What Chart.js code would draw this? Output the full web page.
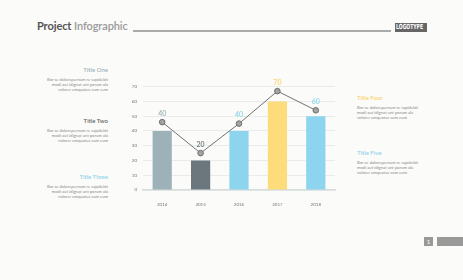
<!DOCTYPE html>
<html>
<head>
<meta charset="utf-8">
<script src="https://cdn.jsdelivr.net/npm/chart.js@4"></script>
<style>
  body { margin:0; width:463px; height:280px; background:#fbfbf9; position:relative; overflow:hidden; font-family:Lato, "Open Sans", sans-serif; }
  .abs { position:absolute; white-space:nowrap; }
  .ttl { font-size:6px; font-weight:600; }
  .body { font-size:4.2px; line-height:5px; color:#8a8a8a; }
  .left { text-align:right; right:355px; }
  .right { left:357px; }
  #wrap { position:absolute; left:120px; top:70px; width:220px; height:140px; }
</style>
</head>
<body>
<div class="abs" style="left:37px;top:19px;font-size:11px;font-weight:700;color:#555;letter-spacing:-0.1px">Project <span style="color:#9a9a9a;font-weight:600">Infographic</span></div>
<div class="abs" style="left:133px;top:30px;width:258px;height:1.5px;background:#aaa"></div>
<div class="abs" style="left:395px;top:23px;width:32px;height:9px;background:#666;overflow:hidden">
  <div style="color:#fff;font-size:7px;line-height:9px;font-family:'Liberation Sans Narrow','DejaVu Sans Condensed',sans-serif;font-weight:700;transform:scaleX(0.72);transform-origin:0 0;padding-left:1.5px">LOGOTYPE</div>
</div>

<div class="abs ttl left" style="top:66px;color:#9fb3ba">Title One</div>
<div class="abs body left" style="top:77px">Bor se dolorepernum re sapidebit<br>modi aut idignat unt porum ala<br>volorer umquatus sum eum</div>
<div class="abs ttl left" style="top:117px;color:#666">Title Two</div>
<div class="abs body left" style="top:128px">Bor se dolorepernum re sapidebit<br>modi aut idignat unt porum ala<br>volorer umquatus sum eum</div>
<div class="abs ttl left" style="top:173px;color:#8fd3ec">Title Three</div>
<div class="abs body left" style="top:184px">Bor se dolorepernum re sapidebit<br>modi aut idignat unt porum ala<br>volorer umquatus sum eum</div>

<div class="abs ttl right" style="top:94px;color:#f8d26b">Title Four</div>
<div class="abs body right" style="top:105px">Bor se dolorepernum re sapidebit<br>modi aut idignat unt porum ala<br>volorer umquatus sum eum</div>
<div class="abs ttl right" style="top:149px;color:#8fd3ec">Title Five</div>
<div class="abs body right" style="top:160px">Bor se dolorepernum re sapidebit<br>modi aut idignat unt porum ala<br>volorer umquatus sum eum</div>

<div class="abs" style="left:424px;top:237px;width:9px;height:9px;background:#999;color:#fff;font-size:6px;line-height:9px;text-align:center">1</div>
<div class="abs" style="left:437px;top:237px;width:26px;height:9px;background:#999"></div>

<div id="wrap"><canvas id="myChart"></canvas></div>

<script>
var years = ['2014', '2015', '2016', '2017', '2018'];
var barValues = [40, 20, 40, 60, 50];
var lineValues = [46, 25, 45, 67, 54];
var pointLabels = ['40', '20', '40', '70', '60'];
var barColors = ['#9db1b8', '#6b767d', '#8dd4ee', '#fddc7b', '#8dd4ee'];
var labelColors = ['#9fb3ba', '#6b767d', '#8dd4ee', '#f9d36c', '#8dd4ee'];
var yTicks = [0, 10, 20, 30, 40, 50, 60, 70];

// draws the small numbers above the line points
var labelPlugin = {
  id: 'pointLabels',
  afterDatasetsDraw: function(chart) {
    var ctx = chart.ctx;
    var meta = chart.getDatasetMeta(0);
    ctx.save();
    ctx.font = '600 7px Lato, sans-serif';
    ctx.textAlign = 'center';
    ctx.textBaseline = 'bottom';
    meta.data.forEach(function(pt, i) {
      ctx.fillStyle = labelColors[i];
      ctx.fillText(pointLabels[i], pt.x, pt.y - 5);
    });
    ctx.restore();
  }
};

var ctx = document.getElementById('myChart').getContext('2d');
var myChart = new Chart(ctx, {
  type: 'bar',
  data: {
    labels: years,
    datasets: [{
      type: 'line',
      data: lineValues,
      borderColor: '#727272',
      borderWidth: 1,
      pointRadius: 2.8,
      pointBackgroundColor: '#a3a3a3',
      pointBorderColor: '#6f6f6f',
      pointBorderWidth: 1,
      tension: 0,
      order: 0
    }, {
      data: barValues,
      backgroundColor: barColors,
      categoryPercentage: 0.5,
      barPercentage: 1,
      order: 1
    }]
  },
  options: {
    responsive: true,
    maintainAspectRatio: false,
    animation: false,
    layout: { padding: { top: 16.7, right: 4 } },
    scales: {
      x: {
        grid: { display: false },
        border: { color: '#d6dbdc', width: 1.5 },
        ticks: { color: '#777', font: { size: 4.5, family: 'Lato' }, padding: 4 },
        afterFit: function(s) { s.height = 20; }
      },
      y: {
        min: 0,
        max: 70,
        afterBuildTicks: function(s) { s.ticks = yTicks.map(function(v) { return { value: v }; }); },
        grid: { color: '#e6e8e8', lineWidth: 0.8, drawTicks: false },
        border: { display: false },
        ticks: { color: '#777', font: { size: 4.5, family: 'Lato' }, padding: 6 },
        afterFit: function(s) { s.width = 23; }
      }
    },
    plugins: {
      legend: { display: false },
      tooltip: { enabled: false }
    }
  },
  plugins: [labelPlugin]
});
</script>
</body>
</html>
